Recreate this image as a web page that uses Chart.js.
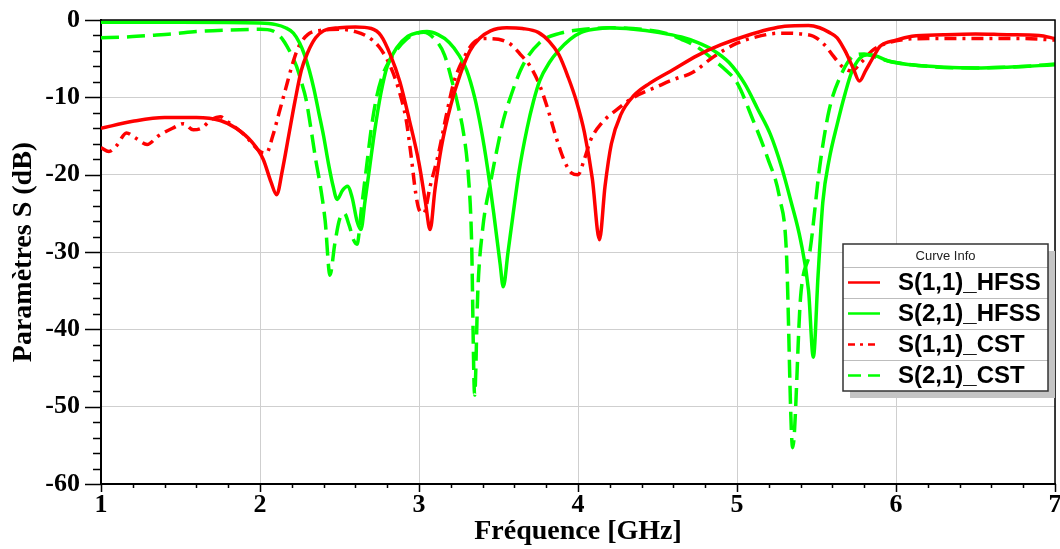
<!DOCTYPE html>
<html>
<head>
<meta charset="utf-8">
<title>Paramètres S</title>
<script src="https://cdn.jsdelivr.net/npm/chart.js@4.4.1/dist/chart.umd.min.js"></script>
<style>
  html, body { margin: 0; padding: 0; background: #fff; }
  #wrap { width: 1060px; height: 549px; }
</style>
</head>
<body>
<div id="wrap"><canvas id="chartSParams" width="1060" height="549"></canvas></div>
<script>
// Tick labels
const xTickLabels = [1, 2, 3, 4, 5, 6, 7];
const yTickLabels = [0, -10, -20, -30, -40, -50, -60];

// S(1,1) HFSS
const s11HfssFreq = [1.0, 1.2, 1.4, 1.6, 1.75, 1.85, 1.95, 2.02, 2.07, 2.105, 2.14, 2.18, 2.22, 2.26, 2.3, 2.35, 2.4, 2.5, 2.6, 2.7,
  2.76, 2.82, 2.88, 2.94, 3.0, 3.04, 3.07, 3.1, 3.14, 3.2, 3.26, 3.32, 3.38, 3.45, 3.55, 3.65, 3.75, 3.82, 3.88, 3.94,
  3.99, 4.04, 4.09, 4.135, 4.17, 4.21, 4.27, 4.35, 4.45, 4.6, 4.75, 4.9, 5.05, 5.2, 5.3, 5.45, 5.52, 5.58, 5.63, 5.68,
  5.73, 5.77, 5.81, 5.86, 5.9, 6.0, 6.1, 6.3, 6.5, 6.7, 6.9, 7.0];
const s11HfssDb = [-14.0, -13.1, -12.6, -12.6, -13.0, -14.0, -15.8, -18.0, -21.0, -22.6, -19.5, -15.0, -10.5, -6.5, -4.2, -2.3, -1.4, -1.0, -0.9, -1.1,
  -2.0, -4.5, -8.0, -13.0, -18.5, -23.5, -27.1, -22.0, -16.5, -11.0, -7.0, -4.0, -2.4, -1.4, -1.0, -1.1, -1.6, -2.8, -4.5, -7.5,
  -10.5, -14.5, -20.5, -28.4, -21.5, -16.0, -12.2, -9.8, -8.2, -6.4, -4.6, -3.2, -2.1, -1.2, -0.8, -0.7, -1.0, -1.6, -2.3, -4.0,
  -6.2, -7.9, -6.5, -4.7, -3.4, -2.6, -2.1, -1.9, -1.8, -1.9, -2.0, -2.4];

// S(2,1) HFSS
const s21HfssFreq = [1.0, 1.5, 2.0, 2.1, 2.16, 2.21, 2.25, 2.28, 2.31, 2.34, 2.37, 2.4, 2.43, 2.46, 2.485, 2.52, 2.55, 2.58, 2.61, 2.635,
  2.66, 2.69, 2.72, 2.76, 2.8, 2.86, 2.93, 3.0, 3.05, 3.12, 3.19, 3.25, 3.3, 3.35, 3.39, 3.43, 3.47, 3.51, 3.53, 3.56,
  3.59, 3.63, 3.68, 3.72, 3.76, 3.82, 3.88, 3.95, 4.02, 4.1, 4.2, 4.35, 4.5, 4.65, 4.75, 4.85, 4.95, 5.05, 5.13, 5.21,
  5.28, 5.34, 5.4, 5.45, 5.48, 5.51, 5.54, 5.58, 5.63, 5.68, 5.72, 5.77, 5.82, 5.87, 5.95, 6.1, 6.3, 6.5, 6.7, 6.9, 7.0];
const s21HfssDb = [-0.3, -0.3, -0.4, -0.6, -1.0, -1.7, -3.0, -4.5, -6.5, -9.0, -12.0, -15.0, -18.5, -21.5, -23.2, -22.0, -21.5, -23.0, -26.0, -27.1,
  -23.5, -19.0, -14.5, -9.5, -6.0, -3.6, -2.1, -1.6, -1.5, -1.9, -2.9, -4.5, -6.5, -10.0, -14.0, -19.0, -25.0, -31.5, -34.5, -30.0,
  -25.4, -19.5, -14.0, -10.5, -7.8, -5.5, -3.9, -2.5, -1.6, -1.2, -1.0, -1.2, -1.6, -2.2, -2.9, -3.9, -5.5, -8.3, -11.5, -14.8,
  -19.0, -23.5, -28.5, -35.0, -43.6, -33.0, -23.5, -18.0, -13.5, -9.5, -6.8, -5.0, -4.5, -4.6, -5.3, -5.8, -6.1, -6.2, -6.1, -5.9, -5.8];

// S(1,1) CST
const s11CstFreq = [1.0, 1.05, 1.1, 1.16, 1.22, 1.29, 1.36, 1.45, 1.52, 1.58, 1.63, 1.7, 1.75, 1.8, 1.9, 2.0, 2.04, 2.08, 2.12, 2.16,
  2.2, 2.24, 2.3, 2.4, 2.5, 2.6, 2.68, 2.75, 2.82, 2.88, 2.92, 2.95, 2.98, 3.0, 3.03, 3.07, 3.12, 3.17, 3.22, 3.28,
  3.34, 3.42, 3.5, 3.58, 3.64, 3.7, 3.76, 3.81, 3.86, 3.91, 3.96, 4.0, 4.04, 4.08, 4.15, 4.25, 4.35, 4.5, 4.6, 4.72,
  4.85, 5.0, 5.1, 5.27, 5.4, 5.48, 5.55, 5.6, 5.66, 5.72, 5.78, 5.86, 6.0, 6.2, 6.5, 6.8, 7.0];
const s11CstDb = [-16.5, -17.0, -16.2, -14.6, -15.3, -16.1, -15.0, -14.0, -13.4, -14.2, -14.0, -12.8, -12.5, -13.2, -14.8, -17.0, -17.2, -15.0, -12.0, -9.0,
  -6.0, -3.6, -1.9, -1.3, -1.2, -1.5, -2.2, -3.5, -6.0, -9.5, -13.0, -17.5, -22.5, -24.5, -25.0, -21.5, -17.5, -12.5, -8.0, -5.0,
  -3.0, -2.4, -2.5, -3.2, -4.5, -6.0, -8.5, -11.5, -15.0, -18.0, -19.8, -20.0, -18.0, -15.5, -13.3, -11.5, -10.0, -8.6, -7.7, -6.8,
  -4.8, -3.0, -2.3, -1.7, -1.8, -2.1, -3.2, -4.5, -6.0, -6.6, -5.5, -3.8, -2.7, -2.4, -2.4, -2.4, -2.6];

// S(2,1) CST
const s21CstFreq = [1.0, 1.15, 1.3, 1.45, 1.6, 1.8, 2.0, 2.08, 2.13, 2.17, 2.2, 2.23, 2.26, 2.29, 2.32, 2.35, 2.38, 2.41, 2.44, 2.47,
  2.5, 2.53, 2.56, 2.59, 2.61, 2.64, 2.67, 2.7, 2.73, 2.77, 2.82, 2.92, 3.03, 3.1, 3.16, 3.21, 3.25, 3.28, 3.31, 3.33,
  3.35, 3.37, 3.4, 3.45, 3.49, 3.53, 3.57, 3.65, 3.76, 3.89, 4.0, 4.2, 4.4, 4.55, 4.65, 4.75, 4.85, 4.93, 5.0, 5.1,
  5.19, 5.27, 5.31, 5.35, 5.4, 5.46, 5.52, 5.58, 5.65, 5.73, 5.8, 5.9, 6.0, 6.2, 6.5, 6.8, 7.0];
const s21CstDb = [-2.3, -2.2, -2.0, -1.8, -1.5, -1.3, -1.2, -1.4, -2.2, -3.4, -4.6, -6.0, -8.0, -10.3, -14.0, -18.0, -21.5, -26.0, -33.0, -29.0,
  -25.8, -25.0, -26.5, -28.5, -29.0, -24.0, -19.0, -14.0, -10.3, -7.2, -5.1, -2.5, -1.6, -2.5, -4.5, -8.1, -11.5, -14.6, -20.0, -28.0,
  -48.5, -35.0, -27.1, -21.0, -16.8, -13.0, -10.3, -6.0, -2.9, -1.7, -1.3, -1.0, -1.2, -1.7, -2.5, -3.5, -5.1, -6.5, -8.1, -12.9,
  -17.7, -23.2, -29.7, -55.3, -35.8, -29.7, -19.0, -11.6, -7.3, -4.7, -4.4, -5.0, -5.5, -6.0, -6.2, -6.0, -5.7];

// ghép tần số và giá trị thành điểm {x, y}
function toPoints(freq, db) {
  return freq.map((f, i) => ({ x: f, y: db[i] }));
}

function isMajor(value, list) {
  return list.some((v) => Math.abs(v - value) < 1e-6);
}

const serif = "'Liberation Serif', 'Times New Roman', serif";
const sans = "'Liberation Sans', Arial, sans-serif";

// ticks (major/minor) + black frame around the plot
const tickMarks = {
  id: "tickMarks",
  afterDraw(chart) {
    const { ctx, chartArea, scales } = chart;
    ctx.save();
    ctx.strokeStyle = "#000";
    ctx.lineWidth = 1.5;
    ctx.beginPath();
    scales.y.ticks.forEach((t) => {
      const py = Math.round(scales.y.getPixelForValue(t.value)) + 0.5;
      const len = isMajor(t.value, yTickLabels) ? 16 : 8;
      ctx.moveTo(chartArea.left - len, py);
      ctx.lineTo(chartArea.left, py);
    });
    scales.x.ticks.forEach((t) => {
      const px = Math.round(scales.x.getPixelForValue(t.value)) + 0.5;
      const len = isMajor(t.value, xTickLabels) ? 8 : 4;
      ctx.moveTo(px, chartArea.bottom);
      ctx.lineTo(px, chartArea.bottom + len);
    });
    ctx.stroke();
    // top and right border
    ctx.beginPath();
    ctx.moveTo(chartArea.left, chartArea.top);
    ctx.lineTo(chartArea.right, chartArea.top);
    ctx.lineTo(chartArea.right, chartArea.bottom);
    ctx.stroke();
    ctx.restore();
  },
};

// legend box "Curve Info"
const curveInfo = {
  id: "curveInfo",
  afterDraw(chart) {
    const { ctx } = chart;
    const x = 843, y = 244, w = 205, titleH = 23, rowH = 31;
    const h = titleH + rowH * chart.data.datasets.length;
    ctx.save();
    ctx.fillStyle = "#c4c4c4";
    ctx.fillRect(x + 7, y + 7, w, h);
    ctx.fillStyle = "#fff";
    ctx.fillRect(x, y, w, h);
    ctx.fillStyle = "#222";
    ctx.font = "13px " + sans;
    ctx.textAlign = "center";
    ctx.textBaseline = "middle";
    ctx.fillText("Curve Info", x + w / 2, y + titleH / 2 + 1);
    chart.data.datasets.forEach((ds, i) => {
      const top = y + titleH + i * rowH;
      ctx.beginPath();
      ctx.moveTo(x, top + 0.5);
      ctx.lineTo(x + w, top + 0.5);
      ctx.strokeStyle = "#bdbdbd";
      ctx.lineWidth = 1;
      ctx.setLineDash([]);
      ctx.stroke();
      const cy = top + rowH / 2;
      ctx.beginPath();
      ctx.moveTo(x + 5, cy);
      ctx.lineTo(x + 37, cy);
      ctx.strokeStyle = ds.borderColor;
      ctx.lineWidth = 2.5;
      ctx.setLineDash(ds.legendDash);
      ctx.stroke();
      ctx.setLineDash([]);
      ctx.fillStyle = "#000";
      ctx.font = "bold 24px " + sans;
      ctx.textAlign = "left";
      ctx.fillText(ds.label, x + 55, cy + 1);
    });
    ctx.strokeStyle = "#333";
    ctx.lineWidth = 1.5;
    ctx.strokeRect(x, y, w, h);
    ctx.restore();
  },
};

const ctx = document.getElementById("chartSParams").getContext("2d");
const chart = new Chart(ctx, {
  type: "line",
  data: {
    datasets: [
      {
        label: "S(1,1)_HFSS",
        data: toPoints(s11HfssFreq, s11HfssDb),
        borderColor: "#ff0000",
        borderWidth: 3.5,
        borderDash: [],
        legendDash: [],
      },
      {
        label: "S(2,1)_HFSS",
        data: toPoints(s21HfssFreq, s21HfssDb),
        borderColor: "#00ff00",
        borderWidth: 3.5,
        borderDash: [],
        legendDash: [],
      },
      {
        label: "S(1,1)_CST",
        data: toPoints(s11CstFreq, s11CstDb),
        borderColor: "#ff0000",
        borderWidth: 3.5,
        borderDash: [12, 6, 3, 6],
        legendDash: [7, 5, 3, 5],
      },
      {
        label: "S(2,1)_CST",
        data: toPoints(s21CstFreq, s21CstDb),
        borderColor: "#00ff00",
        borderWidth: 3.5,
        borderDash: [18, 8],
        legendDash: [13, 7],
      },
    ],
  },
  options: {
    responsive: false,
    animation: false,
    devicePixelRatio: 1,
    layout: { padding: { left: 0, right: 5, top: 20, bottom: 0 } },
    elements: {
      point: { radius: 0 },
      line: { cubicInterpolationMode: "monotone", fill: false },
    },
    plugins: {
      legend: { display: false },
      tooltip: { enabled: false },
    },
    scales: {
      x: {
        type: "linear",
        min: 1,
        max: 7,
        afterFit(scale) {
          scale.height = 65;
          scale.paddingLeft = 0;
          scale.paddingRight = 0;
        },
        ticks: {
          stepSize: 0.2,
          autoSkip: false,
          maxRotation: 0,
          padding: 6,
          color: "#000",
          font: { family: serif, size: 26, weight: "bold" },
          callback: (v) => (isMajor(v, xTickLabels) ? String(Math.round(v)) : ""),
        },
        grid: {
          drawTicks: false,
          color: (c) => (c.tick && isMajor(c.tick.value, xTickLabels) ? "#cfcfcf" : "rgba(0,0,0,0)"),
        },
        border: { display: true, color: "#000", width: 2 },
        title: {
          display: true,
          text: "Fréquence [GHz]",
          color: "#000",
          font: { family: serif, size: 28, weight: "bold" },
          padding: { top: 0, bottom: 0 },
        },
      },
      y: {
        type: "linear",
        min: -60,
        max: 0,
        afterFit(scale) {
          scale.width = 101;
          scale.paddingTop = 0;
          scale.paddingBottom = 0;
        },
        ticks: {
          stepSize: 2,
          autoSkip: false,
          padding: 21,
          color: "#000",
          font: { family: serif, size: 26, weight: "bold" },
          callback: (v) => (isMajor(v, yTickLabels) ? String(v) : ""),
        },
        grid: {
          drawTicks: false,
          color: (c) => (c.tick && isMajor(c.tick.value, yTickLabels) ? "#cfcfcf" : "rgba(0,0,0,0)"),
        },
        border: { display: true, color: "#000", width: 2 },
        title: {
          display: true,
          text: "Paramètres S (dB)",
          color: "#000",
          font: { family: serif, size: 28, weight: "bold" },
          padding: { top: 7, bottom: 0 },
        },
      },
    },
  },
  plugins: [tickMarks, curveInfo],
});
</script>
</body>
</html>
